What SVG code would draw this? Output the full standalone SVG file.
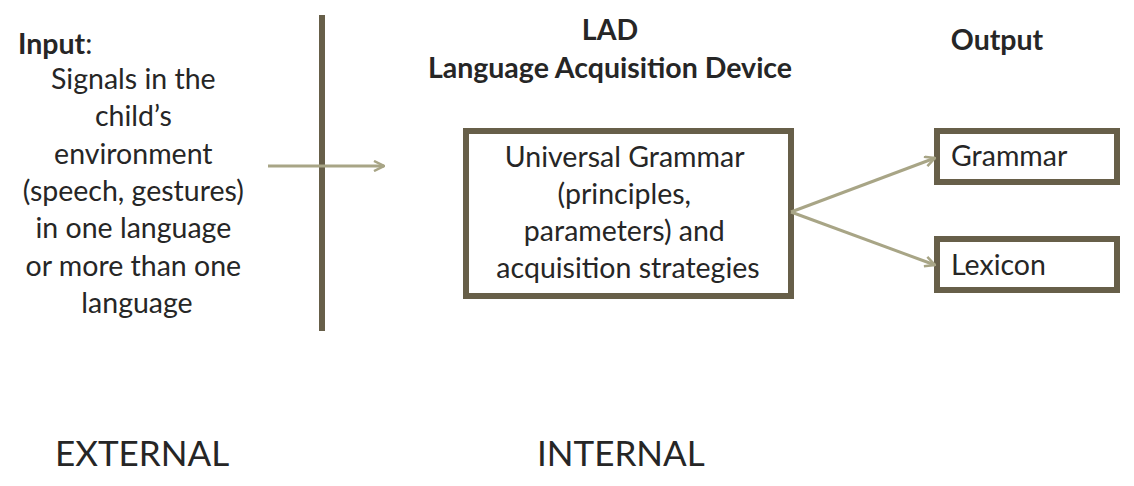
<svg xmlns="http://www.w3.org/2000/svg" width="1134" height="486" viewBox="0 0 1134 486">
<defs>
<style>
text{font-family:Lato,"Liberation Sans",sans-serif;fill:#262626}
.t{font-size:28.5px}
.b{font-weight:bold;font-size:28.5px}
.big{font-size:35px}
.box{fill:#fff;stroke:#675F49;stroke-width:6}
.con{stroke:#A8A586;stroke-width:3;fill:none}
</style>
<marker id="ah" viewBox="0 0 12 12" refX="11" refY="6" markerWidth="12" markerHeight="12" markerUnits="userSpaceOnUse" orient="auto">
<path d="M1,1 L11,6 L1,11" fill="none" stroke="#A8A586" stroke-width="2.5"/>
</marker>
</defs>
<rect width="1134" height="486" fill="#fff"/>
<g id="input">
<text x="18" y="54" class="b">Input<tspan font-weight="normal">:</tspan></text>
<text class="t" text-anchor="middle">
<tspan x="137" y="89">Signals in the</tspan>
<tspan x="137" y="126">child’s</tspan>
<tspan x="137" y="164">environment</tspan>
<tspan x="137" y="201">(speech, gestures)</tspan>
<tspan x="137" y="238">in one language</tspan>
<tspan x="137" y="276">or more than one</tspan>
<tspan x="137" y="313">language</tspan>
</text>
</g>
<g id="divider">
<line x1="322" y1="15" x2="322" y2="331" stroke="#675F49" stroke-width="6"/>
</g>
<g id="lad-title">
<text x="610" y="40" class="b" text-anchor="middle">LAD</text>
<text x="610" y="78" class="b" text-anchor="middle">Language Acquisition Device</text>
</g>
<g id="output-title">
<text x="997" y="50" class="b" text-anchor="middle">Output</text>
</g>
<g id="ug">
<rect x="466" y="131" width="325" height="165" class="box"/>
<text class="t" text-anchor="middle">
<tspan x="628" y="167">Universal Grammar</tspan>
<tspan x="628" y="204">(principles,</tspan>
<tspan x="628" y="241">parameters) and</tspan>
<tspan x="628" y="278">acquisition strategies</tspan>
</text>
</g>
<g id="grammar">
<rect x="937" y="131" width="180" height="51" class="box"/>
<text x="951" y="166" class="t">Grammar</text>
</g>
<g id="lexicon">
<rect x="937" y="239" width="180" height="51" class="box"/>
<text x="951" y="275" class="t">Lexicon</text>
</g>
<g id="connectors">
<line x1="268" y1="166" x2="384" y2="166" class="con" marker-end="url(#ah)"/>
<line x1="791" y1="212" x2="935" y2="158" class="con" marker-end="url(#ah)"/>
<line x1="791" y1="212" x2="935" y2="265" class="con" marker-end="url(#ah)"/>
</g>
<g id="labels">
<text x="55" y="466" class="big">EXTERNAL</text>
<text x="537" y="466" class="big">INTERNAL</text>
</g>
</svg>
